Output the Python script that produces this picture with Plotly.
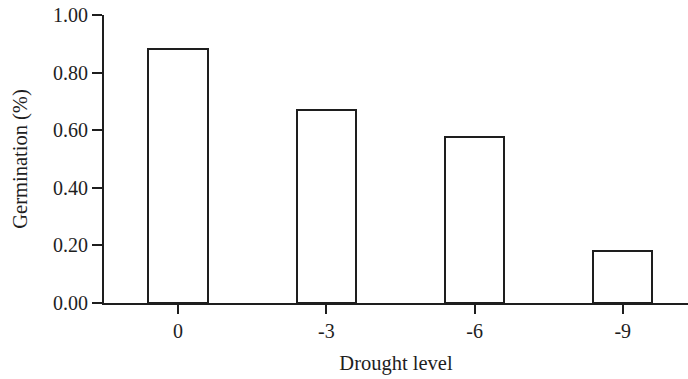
import plotly.graph_objects as go

categories = ["0", "-3", "-6", "-9"]
germination = [0.882, 0.670, 0.577, 0.179]
y_ticks = [0.0, 0.2, 0.4, 0.6, 0.8, 1.0]
y_tick_labels = ["0.00", "0.20", "0.40", "0.60", "0.80", "1.00"]

ink = "#1e1e1e"
tick_font = dict(family="Liberation Serif, Times New Roman, serif", size=20, color=ink)
title_font = dict(family="Liberation Serif, Times New Roman, serif", size=20.5, color=ink)

fig = go.Figure(go.Bar(
    x=list(range(len(categories))),
    y=germination,
    width=0.40,
    marker=dict(color="white", line=dict(color=ink, width=2)),
    hoverinfo="skip",
))

fig.update_layout(
    width=688, height=379,
    margin=dict(l=104, r=0, t=15, b=76),
    paper_bgcolor="white", plot_bgcolor="white",
    showlegend=False,
    font=tick_font,
    bargap=0,
)
fig.update_xaxes(
    range=[-0.5, 3.44],
    tickvals=list(range(len(categories))), ticktext=categories,
    tickfont=tick_font,
    showline=True, linecolor=ink, linewidth=2,
    ticks="outside", ticklen=9, tickwidth=2, tickcolor=ink,
    showgrid=False, zeroline=False, automargin=False,
    title=dict(text="Drought level", font=title_font, standoff=15),
)
fig.update_yaxes(
    range=[0, 1.0],
    tickvals=y_ticks, ticktext=y_tick_labels,
    tickfont=tick_font,
    showline=True, linecolor=ink, linewidth=2,
    ticks="outside", ticklen=10, tickwidth=2, tickcolor=ink,
    showgrid=False, zeroline=False, automargin=False,
    title=dict(text="Germination (%)", font=title_font, standoff=20),
)

# remove the page's default body margin so the figure sits at the window's corner
fig.write_html(
    "out.html",
    config={"displayModeBar": False},
    post_script="document.body.style.margin='0px';document.body.style.overflow='hidden';",
)
